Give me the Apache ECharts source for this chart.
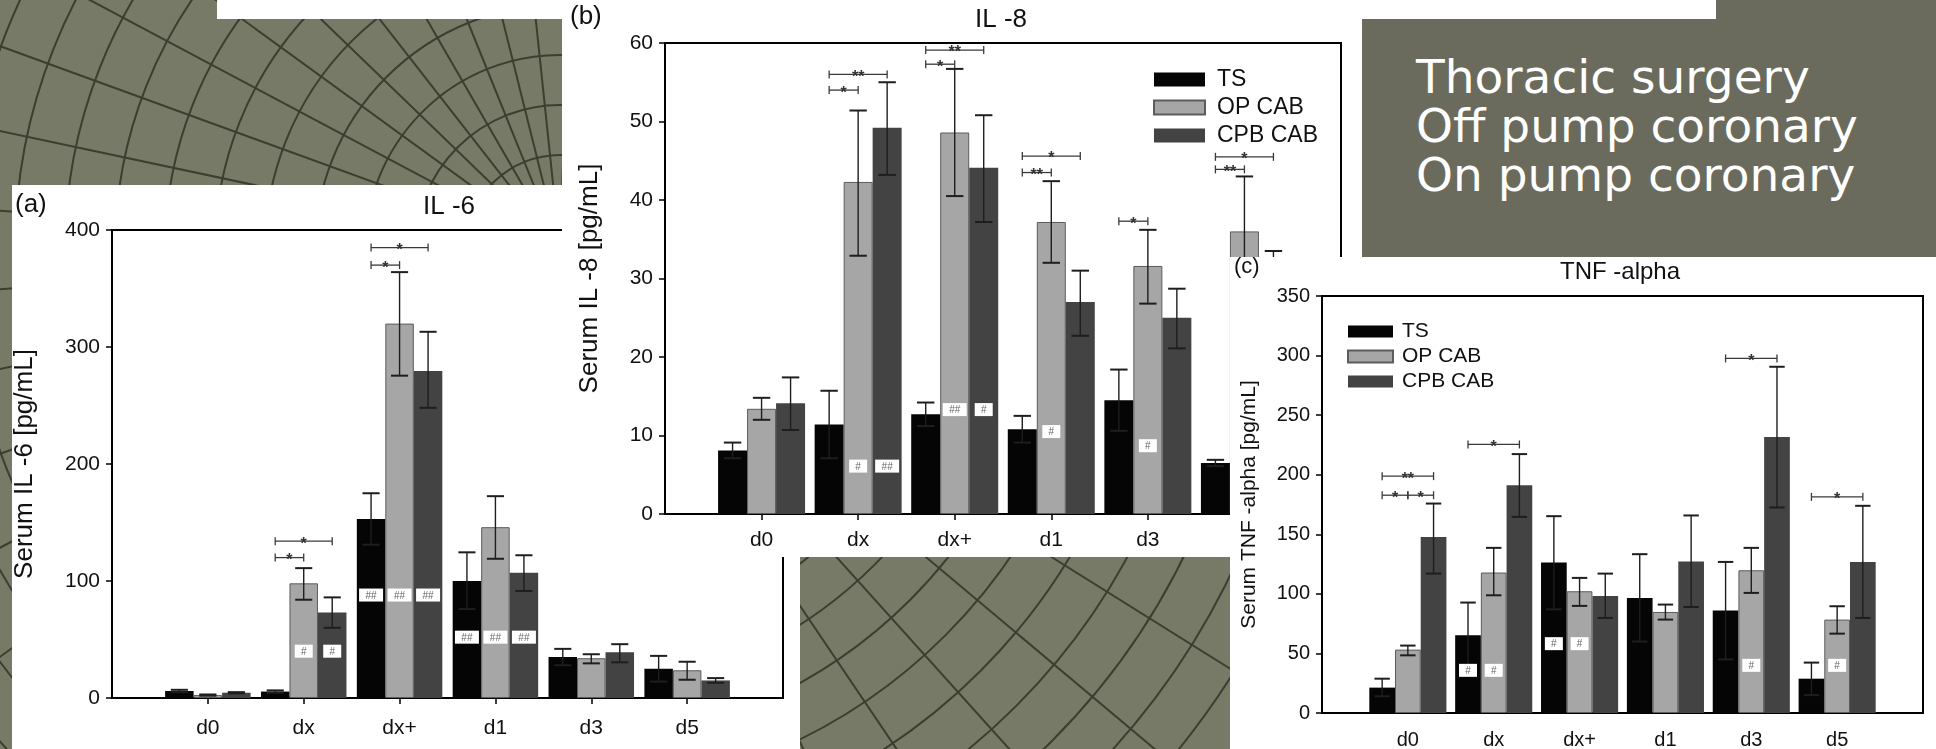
<!DOCTYPE html>
<html lang="en">
<head>
<meta charset="UTF-8">
<title>IL-6 / IL-8 / TNF-alpha</title>
<style>
    html,body{margin:0;padding:0;}
    body{width:1936px;height:749px;position:relative;overflow:hidden;background:#787a68;font-family:'Liberation Sans',Arial,sans-serif;}
    #bg{position:absolute;left:0;top:0;}
    #box{position:absolute;left:1361px;top:0;width:575px;height:258px;background:#6a6b5c;}
    #box .txt{position:absolute;left:55px;top:52px;color:#fff;font-family:'DejaVu Sans',sans-serif;font-size:47px;line-height:49px;white-space:nowrap;}
    #strip{position:absolute;left:217px;top:0;width:1499px;height:19px;background:#fff;}
    .panel{position:absolute;background:#fff;}
    #pa{left:12px;top:185px;width:788px;height:564px;}
    #pb{left:562px;top:0;width:800px;height:557px;}
    #pc{left:1230px;top:257px;width:706px;height:492px;}
</style>
</head>
<body>
<svg id="bg" width="1936" height="749"></svg>
<div id="box"><div class="txt">Thoracic surgery<br>Off pump coronary<br>On pump coronary</div></div>
<div id="strip"></div>
<div id="pa" class="panel"></div>
<div id="pb" class="panel"></div>
<div id="pc" class="panel"></div>
<script src="https://cdn.jsdelivr.net/npm/echarts@6/dist/echarts.min.js"></script>
<script>
    const categories = ['d0', 'dx', 'dx+', 'd1', 'd3', 'd5'];
    const groups = ['TS', 'OP CAB', 'CPB CAB'];

    // (a) IL-6
    const il6TS  = [6, 5.5, 153, 100, 35, 25];
    const il6OP  = [2.5, 98, 320, 146, 34, 23.7];
    const il6CPB = [4.5, 73, 279.5, 107, 39, 15];
    const il6TSErr  = [[5, 7], [4.5, 6.5], [131, 175], [76, 124.5], [28, 42], [14, 36]];
    const il6OPErr  = [[2, 3], [84, 111], [275.5, 364], [119, 172.5], [29.6, 37.4], [15.6, 31]];
    const il6CPBErr = [[4, 5], [60, 86], [248, 313], [91.5, 122], [30.5, 46], [13, 17]];
    // [category, from group, to group, y, mark]
    const il6Sig = [['dx', 0, 2, 134, '*'], ['dx', 0, 1, 120, '*'], ['dx+', 0, 2, 385, '*'], ['dx+', 0, 1, 370, '*']];
    // [category, group, y, mark]
    const il6Hash = [['dx', 1, 40, '#'], ['dx', 2, 40, '#'], ['dx+', 0, 88, '##'], ['dx+', 1, 88, '##'], ['dx+', 2, 88, '##'],
        ['d1', 0, 52, '##'], ['d1', 1, 52, '##'], ['d1', 2, 52, '##']];

    // (b) IL-8
    const il8TS  = [8.1, 11.4, 12.7, 10.8, 14.5, 6.5];
    const il8OP  = [13.4, 42.3, 48.6, 37.2, 31.6, 36];
    const il8CPB = [14.1, 49.2, 44.1, 27, 25, 28.5];
    const il8TSErr  = [[7.1, 9.1], [7.1, 15.7], [11.2, 14.2], [9.1, 12.5], [10.6, 18.4], [6.1, 6.9]];
    const il8OPErr  = [[12, 14.8], [32.9, 51.4], [40.5, 56.7], [32, 42.4], [26.8, 36.2], [29, 43]];
    const il8CPBErr = [[10.7, 17.4], [43.2, 55], [37.2, 50.8], [22.7, 31], [21.1, 28.7], [23.5, 33.5]];
    const il8Sig = [['dx', 0, 2, 56, '**'], ['dx', 0, 1, 54, '*'], ['dx+', 0, 2, 59.1, '**'], ['dx+', 0, 1, 57.3, '*'],
        ['d1', 0, 2, 45.6, '*'], ['d1', 0, 1, 43.5, '**'], ['d3', 0, 1, 37.3, '*'],
        ['d5', 0, 2, 45.5, '*'], ['d5', 0, 1, 43.9, '**']];
    const il8Hash = [['dx', 1, 6.1, '#'], ['dx', 2, 6.1, '##'], ['dx+', 1, 13.3, '##'], ['dx+', 2, 13.3, '#'],
        ['d1', 1, 10.5, '#'], ['d3', 1, 8.7, '#']];

    // (c) TNF-alpha
    const tnfTS  = [21.3, 65.2, 126.3, 96.6, 86, 28.8];
    const tnfOP  = [53.2, 117.9, 102.2, 84.8, 119.8, 78.4];
    const tnfCPB = [147.8, 191.2, 98.3, 127.1, 231.6, 126.8];
    const tnfTSErr  = [[14, 28.8], [38, 92.7], [87, 165.2], [60, 133.3], [45, 126.8], [15, 42.3]];
    const tnfOPErr  = [[48.4, 56.6], [98.8, 138.6], [89.9, 113.4], [78.4, 91], [100.8, 138.6], [66.6, 89.6]];
    const tnfCPBErr = [[117, 175.8], [164.6, 217.3], [79.8, 117], [89, 165.8], [172.5, 290.6], [79.8, 173.9]];
    const tnfSig = [['d0', 0, 2, 198.8, '**'], ['d0', 0, 1, 182.8, '*'], ['d0', 1, 2, 182.8, '*'],
        ['dx', 0, 2, 225.4, '*'], ['d3', 0, 2, 297.6, '*'], ['d5', 0, 2, 181.4, '*']];
    const tnfHash = [['dx', 0, 35.8, '#'], ['dx', 1, 35.8, '#'], ['dx+', 0, 58.2, '#'], ['dx+', 1, 58.2, '#'],
        ['d3', 1, 40, '#'], ['d5', 1, 40, '#']];

    // background: warped polar grid
    (function () {
        const svg = document.getElementById('bg');
        const ns = 'http://www.w3.org/2000/svg';
        const cx = 560, cy = 250;
        for (let r = 45; r < 1700; r += 50) {
            const c = document.createElementNS(ns, 'circle');
            c.setAttribute('cx', cx); c.setAttribute('cy', cy); c.setAttribute('r', r);
            c.setAttribute('fill', 'none'); c.setAttribute('stroke', '#3c3e30'); c.setAttribute('stroke-width', '2');
            svg.appendChild(c);
        }
        for (let a = 0; a < 360; a += 8) {
            const l = document.createElementNS(ns, 'line');
            const t = a * Math.PI / 180;
            l.setAttribute('x1', cx); l.setAttribute('y1', cy);
            l.setAttribute('x2', cx + 2000 * Math.cos(t)); l.setAttribute('y2', cy + 2000 * Math.sin(t));
            l.setAttribute('stroke', '#3c3e30'); l.setAttribute('stroke-width', '2');
            svg.appendChild(l);
        }
    })();

    const FONT = "'Liberation Sans', Arial, sans-serif";
    const colors = ['#050505', '#a6a6a6', '#434343'];

    function buildChart(id, cfg) {
        const chart = echarts.init(document.getElementById(id));
        const bw = cfg.barW;
        const cap = bw * 0.6;
        const axisCats = [''].concat(categories, ['']);

        const series = cfg.values.map((vals, s) => ({
            name: groups[s],
            type: 'bar',
            barWidth: bw,
            barGap: '0%',
            data: ['-'].concat(vals, ['-']),
            itemStyle: {color: colors[s], borderColor: s === 1 ? '#5c5c5c' : colors[s], borderWidth: s === 1 ? 1 : 0},
            silent: true
        }));

        const errData = [];
        cfg.errors.forEach((errs, s) => errs.forEach((e, i) => errData.push([i + 1, e[0], e[1], s])));
        series.push({
            type: 'custom',
            data: errData,
            encode: {x: 0, y: [1, 2]},
            clip: false,
            silent: true,
            z: 5,
            renderItem: function (params, api) {
                const off = (api.value(3) - 1) * bw;
                const lo = api.coord([api.value(0), api.value(1)]);
                const hi = api.coord([api.value(0), api.value(2)]);
                const x = lo[0] + off;
                const st = {stroke: '#1e1e1e', lineWidth: 1.4};
                return {
                    type: 'group', children: [
                        {type: 'line', shape: {x1: x, y1: lo[1], x2: x, y2: hi[1]}, style: st},
                        {type: 'line', shape: {x1: x - cap / 2, y1: hi[1], x2: x + cap / 2, y2: hi[1]}, style: {stroke: '#1e1e1e', lineWidth: 2}},
                        {type: 'line', shape: {x1: x - cap / 2, y1: lo[1], x2: x + cap / 2, y2: lo[1]}, style: {stroke: '#1e1e1e', lineWidth: 2}}
                    ]
                };
            }
        });

        series.push({
            type: 'custom',
            data: cfg.sig.map(d => [categories.indexOf(d[0]) + 1, d[3]]),
            encode: {x: 0, y: 1},
            clip: false,
            silent: true,
            z: 6,
            renderItem: function (params, api) {
                const d = cfg.sig[params.dataIndex];
                const c = api.coord([api.value(0), api.value(1)]);
                const x1 = c[0] + (d[1] - 1) * bw, x2 = c[0] + (d[2] - 1) * bw, y = c[1];
                const st = {stroke: '#3a3a3a', lineWidth: 1.3};
                return {
                    type: 'group', children: [
                        {type: 'line', shape: {x1: x1, y1: y, x2: x2, y2: y}, style: st},
                        {type: 'line', shape: {x1: x1, y1: y - 4, x2: x1, y2: y + 4}, style: st},
                        {type: 'line', shape: {x1: x2, y1: y - 4, x2: x2, y2: y + 4}, style: st},
                        {type: 'text', style: {text: d[4], x: (x1 + x2) / 2, y: y + 3, align: 'center', verticalAlign: 'middle',
                            font: 'bold 16px ' + FONT, fill: '#333'}}
                    ]
                };
            }
        });

        series.push({
            type: 'custom',
            data: cfg.hash.map(d => [categories.indexOf(d[0]) + 1, d[2]]),
            encode: {x: 0, y: 1},
            clip: false,
            silent: true,
            z: 6,
            renderItem: function (params, api) {
                const d = cfg.hash[params.dataIndex];
                const c = api.coord([api.value(0), api.value(1)]);
                const x = c[0] + (d[1] - 1) * bw;
                const w = d[3].length > 1 ? 24 : 18, h = 13;
                return {
                    type: 'group', children: [
                        {type: 'rect', shape: {x: x - w / 2, y: c[1] - h / 2, width: w, height: h}, style: {fill: '#fff'}},
                        {type: 'text', style: {text: d[3], x: x, y: c[1] + 1, align: 'center', verticalAlign: 'middle',
                            font: '10px ' + FONT, fill: '#666'}}
                    ]
                };
            }
        });

        const graphic = cfg.texts.map(t => ({
            type: 'text', x: t.x, y: t.y,
            style: {text: t.text, font: t.size + 'px ' + FONT, fill: '#111', textAlign: t.align || 'left', textVerticalAlign: 'middle'}
        }));

        const option = {
            animation: false,
            grid: Object.assign({show: true, borderColor: '#000', borderWidth: 2, backgroundColor: 'transparent',
                containLabel: false, outerBoundsMode: 'none'}, cfg.grid),
            xAxis: {
                type: 'category',
                data: axisCats,
                boundaryGap: false,
                axisLine: {lineStyle: {color: '#000', width: 2}},
                axisTick: {show: cfg.xTicks, length: 6, lineStyle: {color: '#000', width: 1.5}, interval: (i) => i > 0 && i < 7},
                axisLabel: {interval: 0, fontSize: cfg.tickSize, fontFamily: FONT, color: '#111', margin: cfg.xMargin},
                splitLine: {show: false}
            },
            yAxis: {
                type: 'value',
                min: 0, max: cfg.yMax, interval: cfg.yStep,
                name: cfg.yName, nameLocation: 'middle', nameGap: cfg.nameGap,
                nameTextStyle: {fontSize: cfg.nameSize, fontFamily: FONT, color: '#111'},
                axisLine: {show: true, lineStyle: {color: '#000', width: 2}},
                axisTick: {show: true, length: 6, lineStyle: {color: '#000', width: 1.5}},
                axisLabel: {fontSize: cfg.tickSize, fontFamily: FONT, color: '#111', margin: 12},
                splitLine: {show: false}
            },
            legend: cfg.legend ? {
                data: groups, orient: 'vertical', icon: 'rect', padding: 0,
                left: cfg.legend.left, top: cfg.legend.top,
                itemWidth: cfg.legend.w, itemHeight: cfg.legend.h, itemGap: cfg.legend.gap,
                textStyle: {fontSize: cfg.legend.size, fontFamily: FONT, color: '#111', padding: [0, 0, 0, cfg.legend.pad]},
                selectedMode: false
            } : {show: false},
            graphic: graphic,
            series: series
        };
        chart.setOption(option);
    }

    buildChart('pa', {
        values: [il6TS, il6OP, il6CPB], errors: [il6TSErr, il6OPErr, il6CPBErr], sig: il6Sig, hash: il6Hash,
        barW: 28.5, grid: {left: 100, top: 45, width: 671, height: 468},
        yMax: 400, yStep: 100, yName: 'Serum IL -6 [pg/mL]', nameGap: 74, nameSize: 26,
        tickSize: 21, xMargin: 20, xTicks: true, legend: null,
        texts: [{text: '(a)', x: 3, y: 20, size: 26}, {text: 'IL -6', x: 437, y: 22, size: 26, align: 'center'}]
    });

    buildChart('pb', {
        values: [il8TS, il8OP, il8CPB], errors: [il8TSErr, il8OPErr, il8CPBErr], sig: il8Sig, hash: il8Hash,
        barW: 29, grid: {left: 103, top: 43, width: 676, height: 471},
        yMax: 60, yStep: 10, yName: 'Serum IL -8 [pg/mL]', nameGap: 62, nameSize: 26,
        tickSize: 21, xMargin: 16, xTicks: true,
        legend: {left: 591, top: 68, w: 51, h: 14, gap: 5, size: 23, pad: 7},
        texts: [{text: '(b)', x: 8, y: 17, size: 26}, {text: 'IL -8', x: 439, y: 20, size: 26, align: 'center'}]
    });

    buildChart('pc', {
        values: [tnfTS, tnfOP, tnfCPB], errors: [tnfTSErr, tnfOPErr, tnfCPBErr], sig: tnfSig, hash: tnfHash,
        barW: 25.7, grid: {left: 92, top: 39, width: 601, height: 417},
        yMax: 350, yStep: 50, yName: 'Serum TNF -alpha [pg/mL]', nameGap: 62, nameSize: 21,
        tickSize: 20, xMargin: 17, xTicks: false,
        legend: {left: 117, top: 64, w: 45, h: 12, gap: 4, size: 21, pad: 4},
        texts: [{text: '(c)', x: 4, y: 10, size: 22}, {text: 'TNF -alpha', x: 390, y: 15, size: 24, align: 'center'}]
    });
</script>
</body>
</html>
